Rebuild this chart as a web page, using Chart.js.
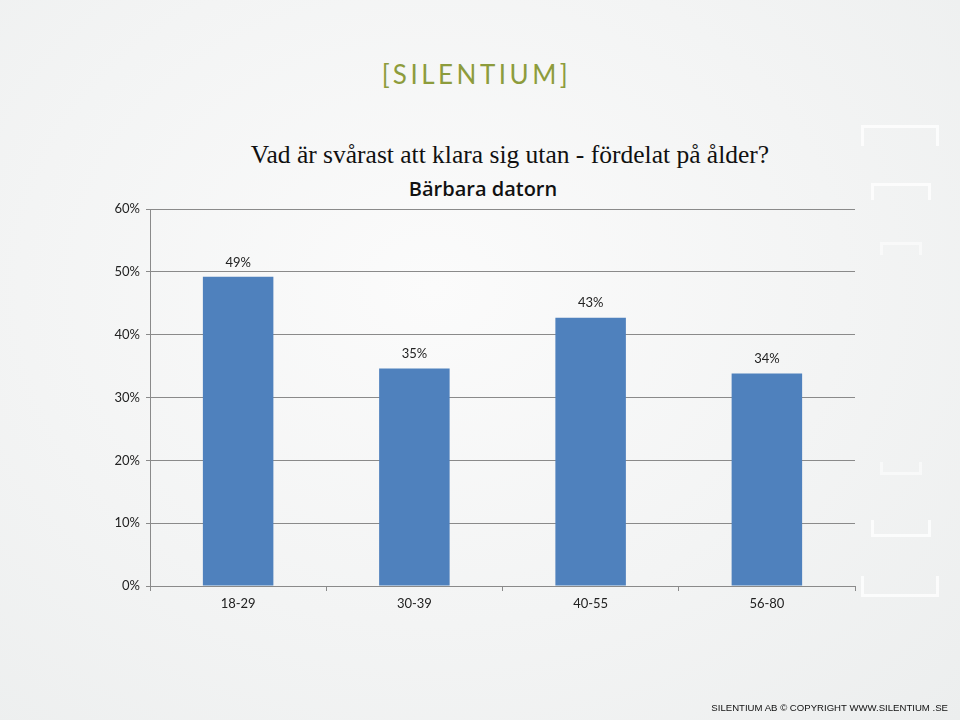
<!DOCTYPE html>
<html>
<head>
<meta charset="utf-8">
<script src="https://cdn.jsdelivr.net/npm/chart.js@4"></script>
<style>
  html, body { margin: 0; padding: 0; }
  body {
    width: 960px; height: 720px; position: relative; overflow: hidden;
    background: radial-gradient(ellipse at 45% 40%, #fbfbfb 0%, #f3f4f4 55%, #eceeee 100%);
  }
  #logo {
    position: absolute; left: 0; width: 953px; top: 58px; text-align: center;
    font-family: Lato, sans-serif; font-size: 26px; letter-spacing: 3.5px; color: #8d9c3c;
  }
  #title {
    position: absolute; left: 0; width: 1020px; top: 140px; text-align: center;
    font-family: "Liberation Serif", serif; font-size: 25.5px; color: #111;
  }
  #subtitle {
    position: absolute; left: 0; width: 966px; top: 175px; text-align: center;
    font-family: "Open Sans", sans-serif; font-weight: 600; font-size: 20px; color: #111;
  }
  #footer {
    position: absolute; right: 12px; top: 702px;
    font-family: "Liberation Sans", sans-serif; font-size: 9.6px; color: #111;
  }
  .br { position: absolute; border: 3px solid rgba(255,255,255,0.75); }
  canvas { position: absolute; left: 0; top: 0; }
</style>
</head>
<body>
<div class="br" style="left:861px;top:125px;width:72px;height:18px;border-bottom:none;"></div>
<div class="br" style="left:871px;top:183px;width:54px;height:14px;border-bottom:none;"></div>
<div class="br" style="left:880px;top:242px;width:36px;height:10px;border-bottom:none;opacity:0.7"></div>
<div class="br" style="left:880px;top:462px;width:36px;height:10px;border-top:none;opacity:0.7"></div>
<div class="br" style="left:871px;top:520px;width:54px;height:14px;border-top:none;"></div>
<div class="br" style="left:861px;top:576px;width:72px;height:18px;border-top:none;"></div>

<div id="logo">[SILENTIUM]</div>
<div id="title">Vad är svårast att klara sig utan - fördelat på ålder?</div>
<div id="subtitle">Bärbara datorn</div>
<canvas id="chart" width="960" height="720"></canvas>
<div id="footer">SILENTIUM AB © COPYRIGHT WWW.SILENTIUM .SE</div>

<script>
// DATA -----------------------------------------------------------------------

const ageGroups = ['18-29', '30-39', '40-55', '56-80']
const shareValues = [49.2, 34.6, 42.7, 33.8]
const yTicks = [0, 10, 20, 30, 40, 50, 60]

// SETTINGS -------------------------------------------------------------------

const barColor = '#4f81bd'
const lineColor = '#8a8a8a'
const labelFont = {family: 'Lato, sans-serif', size: 13}

// value labels above each bar
const valueLabels = {
    id: 'valueLabels',
    afterDatasetsDraw(chart) {
        const ctx = chart.ctx
        const meta = chart.getDatasetMeta(0)
        ctx.save()
        ctx.fillStyle = '#222'
        ctx.font = '13px Lato, sans-serif'
        ctx.textAlign = 'center'
        ctx.textBaseline = 'bottom'
        meta.data.forEach((bar, i) => {
            ctx.fillText(Math.round(shareValues[i]) + '%', bar.x, bar.y - 8)
        })
        ctx.restore()
    }
}

new Chart(document.getElementById('chart'), {
    type: 'bar',
    data: {
        labels: ageGroups,
        datasets: [{
            data: shareValues,
            backgroundColor: barColor,
            borderWidth: 0,
            categoryPercentage: 0.4,
            barPercentage: 1.0
        }]
    },
    options: {
        responsive: false,
        animation: false,
        layout: {padding: {left: 100, right: 105, top: 209, bottom: 94}},
        plugins: {
            legend: {display: false},
            tooltip: {enabled: false}
        },
        scales: {
            x: {
                afterFit: (s) => { s.height = 40 },
                grid: {
                    display: true,
                    drawOnChartArea: false,
                    color: lineColor,
                    tickLength: 5,
                    offset: true
                },
                border: {color: lineColor, width: 1},
                ticks: {color: '#222', font: labelFont, padding: 5}
            },
            y: {
                min: 0,
                max: 60,
                afterFit: (s) => { s.width = 50 },
                afterBuildTicks: (s) => { s.ticks = yTicks.map(v => ({value: v})) },
                grid: {color: lineColor, tickLength: 4},
                border: {color: lineColor, width: 1},
                ticks: {
                    color: '#222',
                    font: labelFont,
                    padding: 6,
                    callback: (v) => v + '%'
                }
            }
        }
    },
    plugins: [valueLabels]
});
</script>
</body>
</html>
